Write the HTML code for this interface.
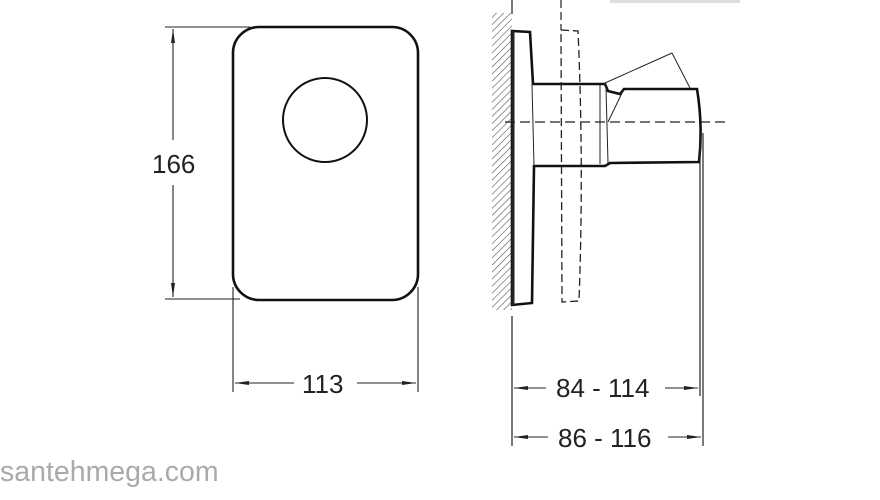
<!DOCTYPE html>
<html><head><meta charset="utf-8"><style>
html,body{margin:0;padding:0;background:#fff;width:880px;height:500px;overflow:hidden}
svg{display:block}
text{font-family:"Liberation Sans",sans-serif;fill:#222}
</style></head><body>
<svg width="880" height="500" viewBox="0 0 880 500" xmlns="http://www.w3.org/2000/svg">
<defs>
<marker id="a" markerWidth="14" markerHeight="6" refX="14" refY="3" orient="auto" markerUnits="userSpaceOnUse">
<path d="M0,1 L14,3 L0,5 z" fill="#222"/></marker>
<pattern id="h" width="5" height="5" patternUnits="userSpaceOnUse" patternTransform="rotate(45)">
<line x1="0" y1="0" x2="0" y2="5" stroke="#555" stroke-width="1.2"/></pattern>
</defs>
<rect x="233" y="27" width="185" height="273" rx="26" fill="none" stroke="#111" stroke-width="2.6"/>
<circle cx="325" cy="120" r="42" fill="none" stroke="#111" stroke-width="2"/>
<g stroke="#222" stroke-width="1.1" fill="none">
<line x1="165" y1="27" x2="250" y2="27"/>
<line x1="165" y1="299" x2="240" y2="299"/>
<line x1="173" y1="140" x2="173" y2="29" marker-end="url(#a)"/>
<line x1="173" y1="185" x2="173" y2="297" marker-end="url(#a)"/>
<line x1="233" y1="287" x2="233" y2="392"/>
<line x1="418" y1="287" x2="418" y2="392"/>
<line x1="294" y1="383" x2="235" y2="383" marker-end="url(#a)"/>
<line x1="357" y1="383" x2="416" y2="383" marker-end="url(#a)"/>
</g>
<text x="152" y="173" font-size="26">166</text>
<text x="302" y="393" font-size="26">113</text>
<rect x="492" y="13" width="20" height="297" fill="url(#h)"/>
<g stroke="#222" fill="none">
<line x1="512" y1="0" x2="512" y2="14" stroke-width="1.2"/>
<line x1="512" y1="316" x2="512" y2="446" stroke-width="1.2"/>
<line x1="561" y1="0" x2="561" y2="30" stroke-width="1.2" stroke-dasharray="8,4"/>
<path d="M561,30 L578,31 Q584,166 579,301 L562,302 Z" stroke-width="1.3" stroke-dasharray="8,4"/>
<line x1="505" y1="122" x2="728" y2="122" stroke-width="1.3" stroke-dasharray="10,5"/>
<path d="M512,31 L530,32 L533,84 L605,84 L608,91 L620,94 L624,89 L697,89 Q703,125 699,162 L610,163 L605,166 L534,166 L532,303 L512,305 Z" stroke="#111" stroke-width="2.6"/>
<line x1="513" y1="31" x2="513" y2="305" stroke-width="3"/>
<line x1="532" y1="84" x2="534" y2="166" stroke-width="1"/>
<line x1="600" y1="84" x2="600" y2="164" stroke-width="1"/>
<line x1="606" y1="88" x2="608" y2="163" stroke-width="1"/>
<line x1="605" y1="83" x2="672" y2="53" stroke-width="1"/>
<line x1="672" y1="53" x2="690" y2="88" stroke-width="1"/>
<line x1="608" y1="122" x2="622" y2="93" stroke-width="1"/>
<line x1="700" y1="133" x2="700" y2="396" stroke-width="1.2"/>
<line x1="703" y1="133" x2="703" y2="446" stroke-width="1.2"/>
<line x1="546" y1="388" x2="514" y2="388" marker-end="url(#a)" stroke-width="1.1"/>
<line x1="665" y1="388" x2="698" y2="388" marker-end="url(#a)" stroke-width="1.1"/>
<line x1="548" y1="437" x2="514" y2="437" marker-end="url(#a)" stroke-width="1.1"/>
<line x1="668" y1="437" x2="701" y2="437" marker-end="url(#a)" stroke-width="1.1"/>
</g>
<rect x="610" y="0" width="130" height="3" fill="#ddd"/>
<text x="556" y="397" font-size="26">84 - 114</text>
<text x="558" y="447" font-size="26">86 - 116</text>
<text x="0" y="481" font-size="28.5" style="fill:#aaa">santehmega.com</text>
</svg>
</body></html>
